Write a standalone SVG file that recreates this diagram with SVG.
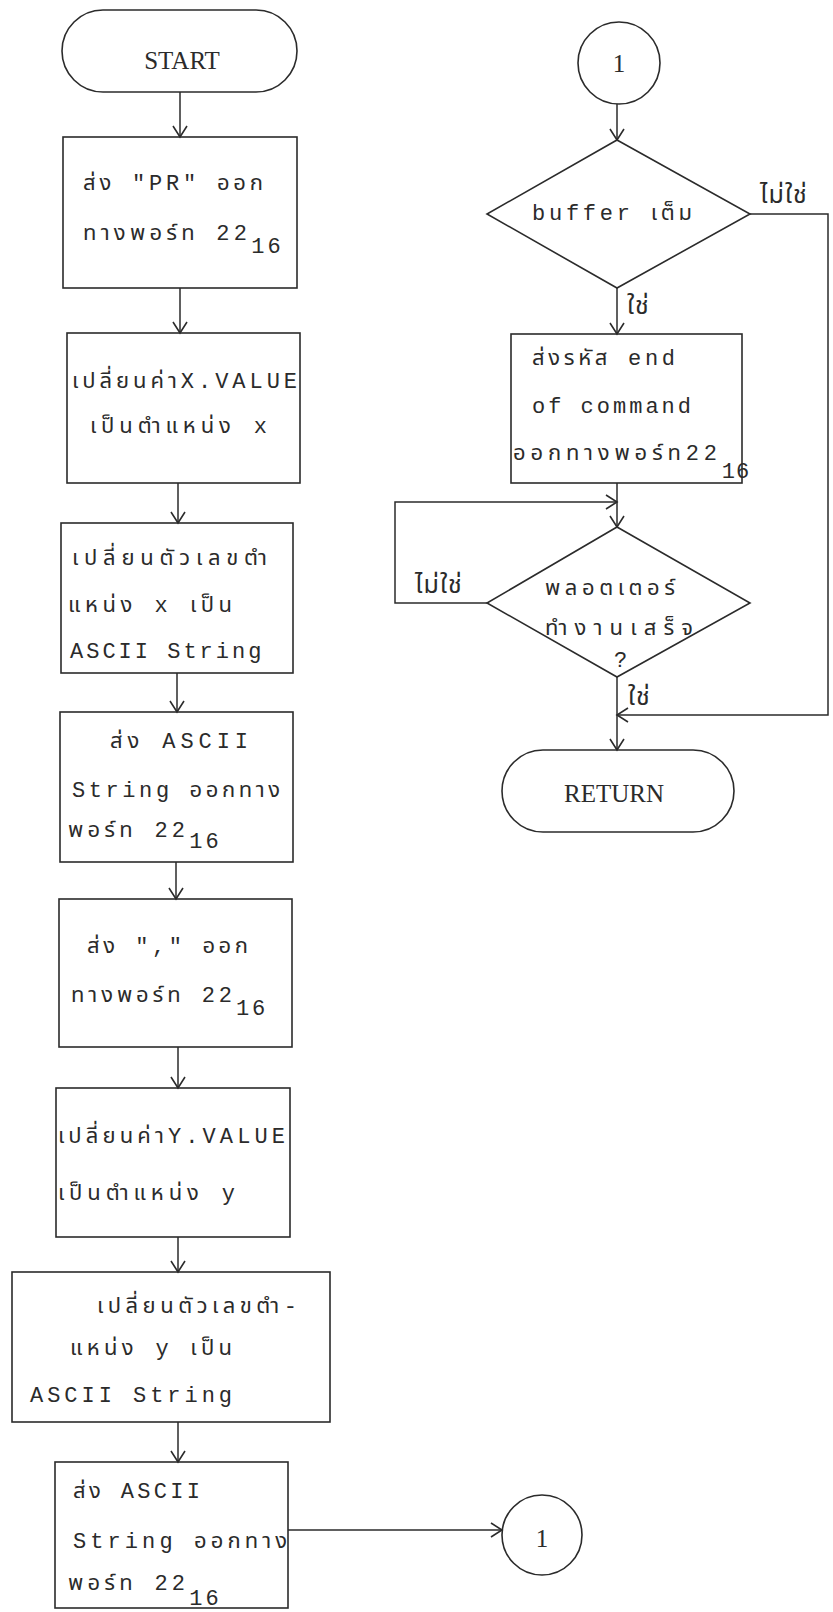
<svg xmlns="http://www.w3.org/2000/svg" width="833" height="1612" viewBox="0 0 833 1612">
  <style>
    .shape { fill: none; stroke: #2b2b2b; stroke-width: 1.6; }
    .wire { fill: none; stroke: #2b2b2b; stroke-width: 1.5; }
    .t { font-family: "Liberation Mono", "Noto Sans Thai", "Noto Sans", monospace; font-size: 22px; fill: #2b2b2b; }
    .lbl { font-family: "Liberation Mono", "Noto Sans Thai", "Noto Sans", monospace; font-size: 25px; fill: #2b2b2b; letter-spacing: 1px; }
    .lat { letter-spacing: 3px; }
    .term { font-family: "Liberation Serif", serif; font-size: 25px; fill: #2b2b2b; text-anchor: middle; }
  </style>
  <defs>
    <marker id="arrow" markerUnits="userSpaceOnUse" markerWidth="20" markerHeight="20" refX="12" refY="10" orient="auto">
      <path d="M1,3 L12,10 L1,17" fill="none" stroke="#2b2b2b" stroke-width="1.6"/>
    </marker>
  </defs>
  <rect width="833" height="1612" fill="#ffffff"/>

  <!-- connectors -->
  <g id="connectors">
    <line class="wire" x1="180" y1="92" x2="180" y2="137" marker-end="url(#arrow)"/>
    <line class="wire" x1="180" y1="288" x2="180" y2="333" marker-end="url(#arrow)"/>
    <line class="wire" x1="178" y1="483" x2="178" y2="523" marker-end="url(#arrow)"/>
    <line class="wire" x1="177" y1="673" x2="177" y2="712" marker-end="url(#arrow)"/>
    <line class="wire" x1="176" y1="862" x2="176" y2="899" marker-end="url(#arrow)"/>
    <line class="wire" x1="178" y1="1047" x2="178" y2="1088" marker-end="url(#arrow)"/>
    <line class="wire" x1="178" y1="1237" x2="178" y2="1272" marker-end="url(#arrow)"/>
    <line class="wire" x1="178" y1="1422" x2="178" y2="1462" marker-end="url(#arrow)"/>
    <line class="wire" x1="288" y1="1530" x2="502" y2="1530" marker-end="url(#arrow)"/>

    <line class="wire" x1="617" y1="104" x2="617" y2="140" marker-end="url(#arrow)"/>
    <line class="wire" x1="617" y1="288" x2="617" y2="334" marker-end="url(#arrow)"/>
    <polyline class="wire" points="750,214 828,214 828,715 617,715" marker-end="url(#arrow)"/>
    <line class="wire" x1="617" y1="483" x2="617" y2="527" marker-end="url(#arrow)"/>
    <polyline class="wire" points="487,603 395,603 395,502 617,502" marker-end="url(#arrow)"/>
    <line class="wire" x1="617" y1="677" x2="617" y2="750" marker-end="url(#arrow)"/>

    <text class="lbl" x="760" y="203">ไม่ใช่</text>
    <text class="lbl" x="627" y="314">ใช่</text>
    <text class="lbl" x="415" y="593">ไม่ใช่</text>
    <text class="lbl" x="628" y="705">ใช่</text>
  </g>

  <!-- left column -->
  <g id="start">
    <rect class="shape" x="62" y="10" width="235" height="82" rx="41" ry="41"/>
    <text class="term" x="182" y="69">START</text>
  </g>

  <g id="send-pr">
    <rect class="shape" x="63" y="137" width="234" height="151"/>
    <text class="t" x="83" y="190" textLength="180" lengthAdjust="spacing">ส่ง "PR" ออก</text>
    <text class="t" x="83" y="240"><tspan textLength="164" lengthAdjust="spacing">ทางพอร์ท 22</tspan><tspan class="lat" dy="13">16</tspan></text>
  </g>

  <g id="convert-x-value">
    <rect class="shape" x="67" y="333" width="233" height="150"/>
    <text class="t" x="72" y="388" textLength="225" lengthAdjust="spacing">เปลี่ยนค่าX.VALUE</text>
    <text class="t" x="90" y="433" textLength="177" lengthAdjust="spacing">เป็นตำแหน่ง x</text>
  </g>

  <g id="convert-x-ascii">
    <rect class="shape" x="61" y="523" width="232" height="150"/>
    <text class="t" x="72" y="565" textLength="195" lengthAdjust="spacing">เปลี่ยนตัวเลขตำ</text>
    <text class="t" x="68" y="612" textLength="164" lengthAdjust="spacing">แหน่ง x เป็น</text>
    <text class="t lat" x="70" y="658">ASCII String</text>
  </g>

  <g id="send-x-ascii">
    <rect class="shape" x="60" y="712" width="233" height="150"/>
    <text class="t" x="110" y="748" textLength="138" lengthAdjust="spacing">ส่ง ASCII</text>
    <text class="t" x="72" y="797" textLength="208" lengthAdjust="spacing">String ออกทาง</text>
    <text class="t" x="68" y="837"><tspan textLength="117" lengthAdjust="spacing">พอร์ท 22</tspan><tspan class="lat" dy="11">16</tspan></text>
  </g>

  <g id="send-comma">
    <rect class="shape" x="59" y="899" width="233" height="148"/>
    <text class="t" x="87" y="953" textLength="161" lengthAdjust="spacing">ส่ง "," ออก</text>
    <text class="t" x="71" y="1002"><tspan textLength="161" lengthAdjust="spacing">ทางพอร์ท 22</tspan><tspan class="lat" dy="13">16</tspan></text>
  </g>

  <g id="convert-y-value">
    <rect class="shape" x="56" y="1088" width="234" height="149"/>
    <text class="t" x="58" y="1143" textLength="227" lengthAdjust="spacing">เปลี่ยนค่าY.VALUE</text>
    <text class="t" x="58" y="1200" textLength="177" lengthAdjust="spacing">เป็นตำแหน่ง y</text>
  </g>

  <g id="convert-y-ascii">
    <rect class="shape" x="12" y="1272" width="318" height="150"/>
    <text class="t" x="97" y="1313" textLength="200" lengthAdjust="spacing">เปลี่ยนตัวเลขตำ-</text>
    <text class="t" x="70" y="1355" textLength="162" lengthAdjust="spacing">แหน่ง y เป็น</text>
    <text class="t" x="30" y="1402" textLength="202" lengthAdjust="spacing">ASCII  String</text>
  </g>

  <g id="send-y-ascii">
    <rect class="shape" x="55" y="1462" width="233" height="146"/>
    <text class="t" x="73" y="1498" textLength="127" lengthAdjust="spacing">ส่ง ASCII</text>
    <text class="t" x="73" y="1548" textLength="214" lengthAdjust="spacing">String ออกทาง</text>
    <text class="t" x="68" y="1590"><tspan textLength="117" lengthAdjust="spacing">พอร์ท 22</tspan><tspan class="lat" dy="15">16</tspan></text>
  </g>

  <g id="connector-out">
    <circle class="shape" cx="542" cy="1535" r="40"/>
    <text class="term" x="542" y="1547">1</text>
  </g>

  <!-- right column -->
  <g id="connector-in">
    <circle class="shape" cx="619" cy="63" r="41"/>
    <text class="term" x="619" y="72">1</text>
  </g>

  <g id="buffer-full">
    <polygon class="shape" points="617,140 750,214 617,288 487,214"/>
    <text class="t" x="532" y="220" textLength="160" lengthAdjust="spacing">buffer เต็ม</text>
  </g>

  <g id="send-end-of-command">
    <rect class="shape" x="511" y="334" width="231" height="149"/>
    <text class="t" x="532" y="365" textLength="143" lengthAdjust="spacing">ส่งรหัส end</text>
    <text class="t lat" x="532" y="413">of command</text>
    <text class="t" x="513" y="460"><tspan textLength="204" lengthAdjust="spacing">ออกทางพอร์ท22</tspan><tspan dy="18" letter-spacing="1">16</tspan></text>
  </g>

  <g id="plotter-done">
    <polygon class="shape" points="617,527 750,603 617,677 487,603"/>
    <text class="t" x="545" y="595" textLength="130" lengthAdjust="spacing">พลอตเตอร์</text>
    <text class="t" x="545" y="635" textLength="148" lengthAdjust="spacing">ทำงานเสร็จ</text>
    <text class="t" x="614" y="667">?</text>
  </g>

  <g id="return">
    <rect class="shape" x="502" y="750" width="232" height="82" rx="41" ry="41"/>
    <text class="term" x="614" y="802">RETURN</text>
  </g>
</svg>
